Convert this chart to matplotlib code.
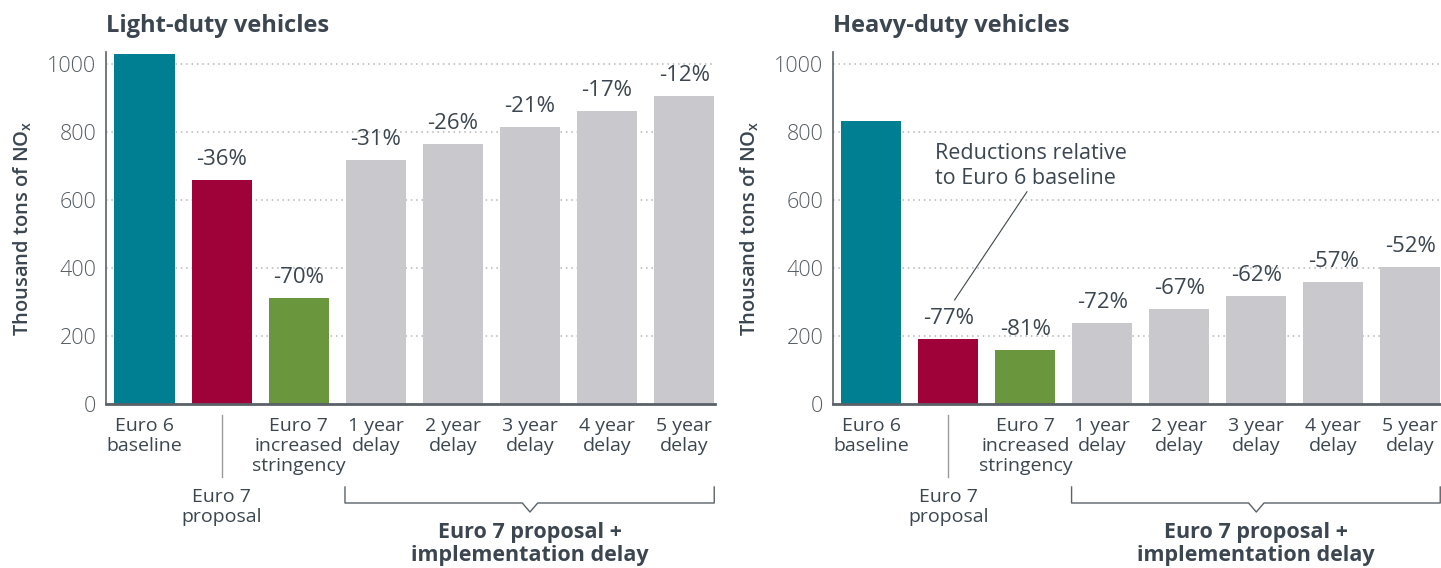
import matplotlib.pyplot as plt
from matplotlib.transforms import blended_transform_factory

categories = ["Euro 6\nbaseline", "Euro 7\nproposal", "Euro 7\nincreased\nstringency",
              "1 year\ndelay", "2 year\ndelay", "3 year\ndelay", "4 year\ndelay", "5 year\ndelay"]
ldv_values = [1030, 659, 312, 718, 765, 815, 862, 906]
hdv_values = [832, 191, 159, 238, 279, 318, 359, 403]
ldv_pct = ["", "-36%", "-70%", "-31%", "-26%", "-21%", "-17%", "-12%"]
hdv_pct = ["", "-77%", "-81%", "-72%", "-67%", "-62%", "-57%", "-52%"]
titles = ["Light-duty vehicles", "Heavy-duty vehicles"]

TEAL = "#007f92"
RED = "#9e0239"
GREEN = "#6a963d"
GREY = "#c8c8cd"
TXT = "#3b4650"
colors = [TEAL, RED, GREEN] + [GREY] * 5

plt.rcParams['font.family'] = ['Open Sans', 'DejaVu Sans']

W, H = 1441, 568
fig = plt.figure(figsize=(W / 100, H / 100), dpi=100)

def px_axes(x0, x1, ytop, ybot):
    return fig.add_axes([x0 / W, (H - ybot) / H, (x1 - x0) / W, (ybot - ytop) / H])

panels = [
    (px_axes(106, 715, 52, 404), ldv_values, ldv_pct),
    (px_axes(833, 1441, 52, 404), hdv_values, hdv_pct),
]

def ypx(p):
    # pixel row -> axes fraction (both panels share the same vertical extent)
    return (404 - p) / 352

for k, (ax, vals, pct) in enumerate(panels):
    x = range(len(vals))
    ax.bar(x, vals, width=0.78, color=colors, zorder=2)
    ax.set_xlim(-0.5, 7.4)
    ax.set_ylim(0, 1035)
    ax.set_yticks(range(0, 1001, 200))
    ax.yaxis.grid(True, linestyle=(0, (1, 2.5)), color="#b5b5b5", linewidth=1.1, zorder=0)
    ax.set_axisbelow(True)
    ax.tick_params(axis='y', length=0, pad=7, labelsize=15.5, labelcolor="#555d64")
    ax.set_xticks([])
    for lbl in ax.get_yticklabels():
        lbl.set_fontweight('light')
    for s in ["top", "right"]:
        ax.spines[s].set_visible(False)
    ax.spines["left"].set_color("#5a6168")
    ax.spines["left"].set_linewidth(1.2)
    ax.spines["bottom"].set_color("#5a6168")
    ax.spines["bottom"].set_linewidth(2)
    ax.set_ylabel("Thousand tons of NO$_{\\mathregular{x}}$", fontsize=14.5, color=TXT,
                  fontweight='semibold')
    ax.yaxis.set_label_coords(-72 / ax.bbox.width, 0.5)
    ax.text(0, 1.075, titles[k], transform=ax.transAxes, fontsize=17, fontweight='bold',
            color=TXT, ha='left', va='center')

    for i, v in enumerate(vals):
        if pct[i]:
            ax.text(i, v + 60, pct[i], ha='center', va='center', fontsize=16, color=TXT)

    tr = blended_transform_factory(ax.transData, ax.transAxes)
    for i, c in enumerate(categories):
        if i == 1:
            continue
        ax.text(i, ypx(417), c, transform=tr, ha='center', va='top', fontsize=14,
                color=TXT, linespacing=1.15)
    # Euro 7 proposal label with leader line
    ax.plot([1, 1], [ypx(415), ypx(477)], transform=tr, color="#9a9a9a",
            linewidth=1, clip_on=False)
    ax.text(1, ypx(488), categories[1], transform=tr, ha='center',
            va='top', fontsize=14, color=TXT, linespacing=1.15)

    # bracket for delay scenarios
    bx0, bx1, bmid = 2.6, 7.39, 5.0
    yb, yt, yn = ypx(503), ypx(487), ypx(512)
    ax.plot([bx0, bx0, bmid - 0.1, bmid, bmid + 0.1, bx1, bx1],
            [yt, yb, yb, yn, yb, yb, yt], transform=tr, color="#5a6168",
            linewidth=1, clip_on=False)
    ax.text(bmid, ypx(522), "Euro 7 proposal +\nimplementation delay", transform=tr,
            ha='center', va='top', fontsize=15.5, fontweight='bold', color=TXT,
            linespacing=1.1)

# annotation on heavy-duty panel
axh = panels[1][0]
axh.text(0.83, 700, "Reductions relative\nto Euro 6 baseline", fontsize=15.5, color=TXT,
         ha='left', va='center', linespacing=1.2)
axh.plot([2.02, 1.08], [624, 306], color=TXT, linewidth=0.8, zorder=3)

fig.savefig("out.png", dpi=100)
